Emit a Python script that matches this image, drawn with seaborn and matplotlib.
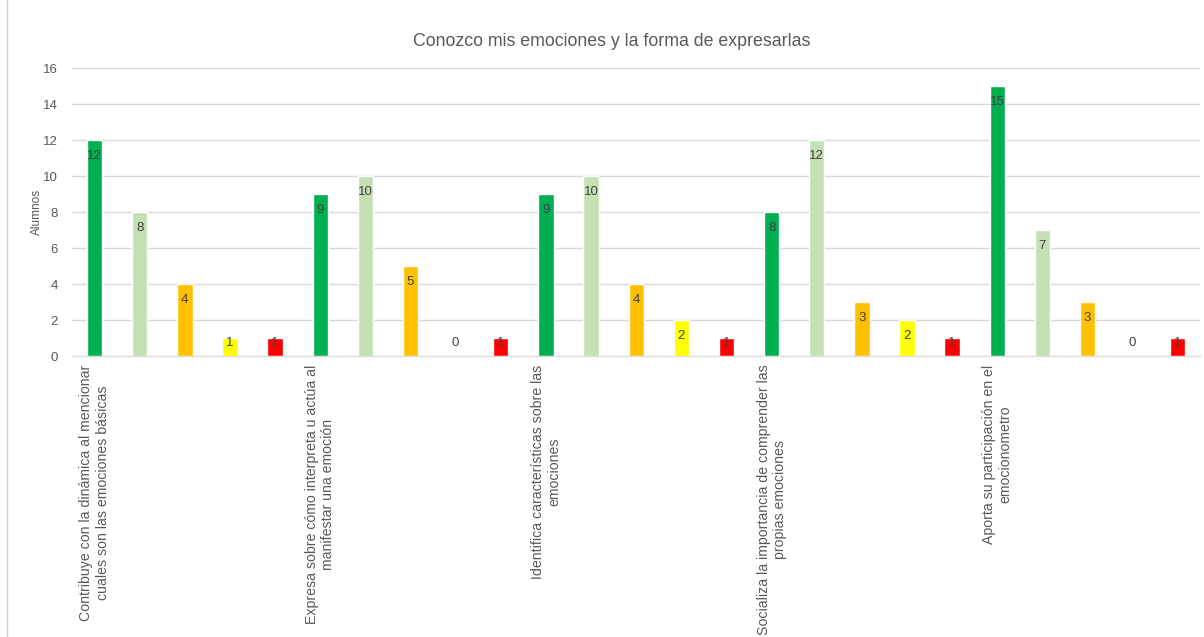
import matplotlib
matplotlib.use('Agg')
import matplotlib.pyplot as plt
import seaborn as sns
import pandas as pd
from matplotlib.lines import Line2D

# data
categorias = [
    'Contribuye con la dinámica al mencionar\ncuales son las emociones básicas',
    'Expresa sobre cómo interpreta u actúa al\nmanifestar una emoción',
    'Identifica características sobre las\nemociones',
    'Socializa la importancia de comprender las\npropias emociones',
    'Aporta su participación en el\nemocionometro',
]
niveles = ['Nivel 1', 'Nivel 2', 'Nivel 3', 'Nivel 4', 'Nivel 5']
nivel_1 = [12, 9, 9, 8, 15]
nivel_2 = [8, 10, 10, 12, 7]
nivel_3 = [4, 5, 4, 3, 3]
nivel_4 = [1, 0, 2, 2, 0]
nivel_5 = [1, 1, 1, 1, 1]
colores = ['#00B050', '#C5E0B4', '#FFC000', '#FFFF00', '#FF0000']

series = [nivel_1, nivel_2, nivel_3, nivel_4, nivel_5]
rows = []
for i, cat in enumerate(categorias):
    for j, niv in enumerate(niveles):
        rows.append({'pos': i * len(niveles) + j, 'nivel': niv, 'valor': series[j][i]})
df = pd.DataFrame(rows)
palette = dict(zip(niveles, colores))

sns.set_style('white')
plt.rcParams['font.family'] = ['Liberation Sans', 'DejaVu Sans']
gris = '#595959'

fig = plt.figure(figsize=(12.04, 6.37), dpi=100)
ax = fig.add_axes([0.0598, 0.441, 0.9372, 0.452])

sns.barplot(data=df, x='pos', y='valor', hue='nivel', palette=palette,
            order=list(range(len(df))), dodge=False, width=0.34,
            saturation=1, legend=False, ax=ax)

# value labels (inside end, like Excel)
for _, r in df.iterrows():
    h = r['valor']
    y = max(h - 0.9, 0.72)
    ax.text(r['pos'], y, str(h), ha='center', va='center',
            fontsize=9.5, color='#404040')

ax.set_ylim(0, 16)
ax.set_xlim(-0.5, len(df) - 0.5)
ax.set_yticks(range(0, 17, 2))
ax.yaxis.grid(True, color='#d9d9d9', linewidth=1)
ax.set_axisbelow(True)
for s in ['top', 'right', 'left']:
    ax.spines[s].set_visible(False)
ax.spines['bottom'].set_color('#d9d9d9')

ticks = [i * len(niveles) for i in range(len(categorias))]
ax.set_xticks(ticks)
ax.set_xticklabels(categorias, rotation=90, ha='center', va='top',
                   multialignment='center', fontsize=10.2, color=gris)
ax.tick_params(axis='x', length=0, pad=6)
ax.tick_params(axis='y', length=0, labelsize=9.5, labelcolor=gris, pad=10)

ax.set_xlabel('')
ax.set_ylabel('Alumnos', fontsize=8.5, color=gris)
ax.yaxis.set_label_coords(-0.026, 0.5)
fig.text(0.508, 0.935, 'Conozco mis emociones y la forma de expresarlas',
         ha='center', va='center', fontsize=12.8, color=gris)

fig.add_artist(Line2D([0.006, 0.006], [0, 1], color='#d0d0d0', linewidth=1))

fig.savefig('out.png', dpi=100)
